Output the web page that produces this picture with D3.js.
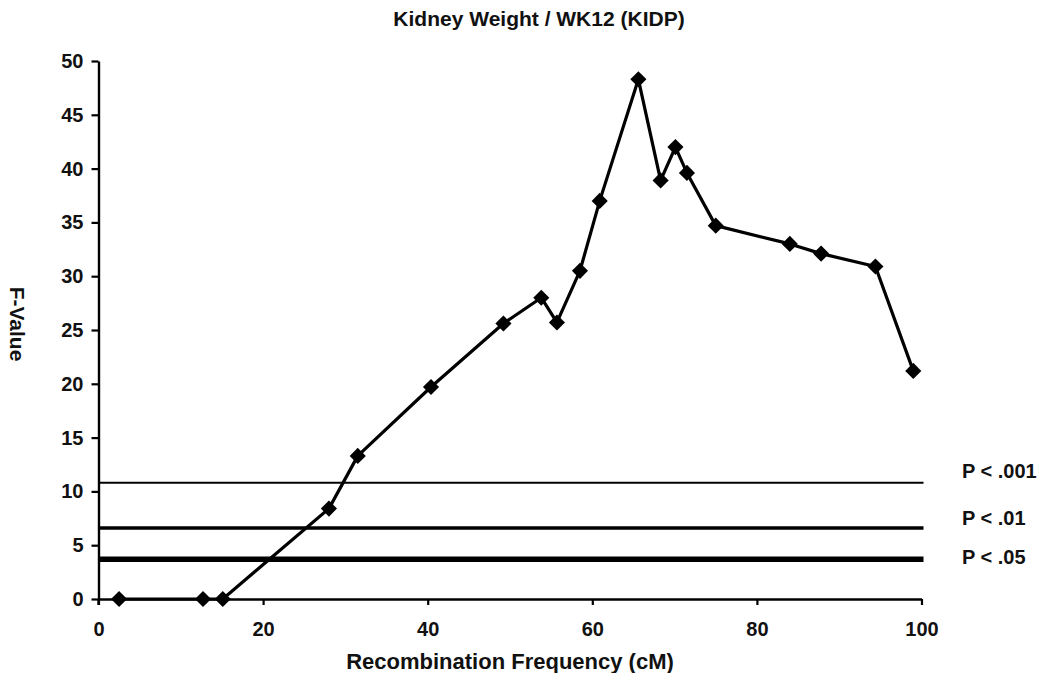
<!DOCTYPE html>
<html>
<head>
<meta charset="utf-8">
<script src="https://cdn.jsdelivr.net/npm/d3@7"></script>
<style>
  html, body { margin: 0; padding: 0; background: #ffffff; }
  svg { display: block; }
  text { font-family: "Liberation Sans", Arial, sans-serif; font-weight: bold; fill: #111; }
</style>
</head>
<body>
<script>
// Marker position (cM) and F statistic along the chromosome
const positions = [2.5, 12.7, 15.1, 28.0, 31.5, 40.4, 49.2, 53.8, 55.7, 58.5, 60.9, 65.6, 68.3, 70.1, 71.5, 75.0, 84.0, 87.8, 94.4, 99.0];
const fValues   = [0, 0, 0, 8.4, 13.3, 19.7, 25.6, 28.0, 25.7, 30.5, 37.0, 48.3, 38.9, 42.0, 39.6, 34.7, 33.0, 32.1, 30.9, 21.2];

// Significance thresholds
const thresholdLabels = ["P < .001", "P < .01", "P < .05"];
const thresholdValues = [10.8, 6.6, 3.7];
const thresholdWidths = [2, 3.5, 5.5];
const thresholdLabelShift = [-12, -10, -2];

const xTicks = [0, 20, 40, 60, 80, 100];
const yTicks = [0, 5, 10, 15, 20, 25, 30, 35, 40, 45, 50];

const W = 1047, H = 673;
const margin = { left: 98.5, right: W - 921.5, top: 61, bottom: H - 599 };

const svg = d3.select("body").append("svg").attr("width", W).attr("height", H);
svg.append("rect").attr("width", W).attr("height", H).attr("fill", "#ffffff");

const x = d3.scaleLinear().domain([0, 100]).range([margin.left, W - margin.right]);
const y = d3.scaleLinear().domain([0, 50]).range([H - margin.bottom, margin.top]);

// Title
svg.append("text")
  .attr("x", 539).attr("y", 18)
  .attr("text-anchor", "middle").attr("dominant-baseline", "central")
  .style("font-size", "21px")
  .text("Kidney Weight / WK12 (KIDP)");

// Threshold lines
svg.append("g").selectAll("line")
  .data(thresholdValues)
  .join("line")
  .attr("x1", x(0)).attr("x2", x(100) + 2)
  .attr("y1", d => y(d)).attr("y2", d => y(d))
  .attr("stroke", "#000")
  .attr("stroke-width", (d, i) => thresholdWidths[i]);

svg.append("g").selectAll("text")
  .data(thresholdValues)
  .join("text")
  .attr("x", 962)
  .attr("y", (d, i) => y(d) + thresholdLabelShift[i])
  .attr("dominant-baseline", "central")
  .style("font-size", "20px")
  .text((d, i) => thresholdLabels[i]);

// Axes
const xAxis = d3.axisBottom(x).tickValues(xTicks).tickSize(6).tickSizeOuter(0).tickPadding(17);
const yAxis = d3.axisLeft(y).tickValues(yTicks).tickSize(7).tickSizeOuter(0).tickPadding(8);

const gx = svg.append("g").attr("transform", `translate(0,${y(0)})`).call(xAxis);
const gy = svg.append("g").attr("transform", `translate(${x(0)},0)`).call(yAxis);

[gx, gy].forEach(g => {
  g.select(".domain").attr("stroke", "#000").attr("stroke-width", 2.4);
  g.selectAll(".tick line").attr("stroke", "#000").attr("stroke-width", 2.2);
  g.selectAll(".tick text").style("font-size", "20px").attr("fill", "#111")
    .style("font-family", "'Liberation Sans', Arial, sans-serif").style("font-weight", "bold");
});
// y axis runs a little below the x axis
gy.append("line").attr("x1", 0).attr("x2", 0).attr("y1", y(0)).attr("y2", y(0) + 6)
  .attr("stroke", "#000").attr("stroke-width", 2.4);

// Axis titles
svg.append("text")
  .attr("x", 510).attr("y", 661)
  .attr("text-anchor", "middle").attr("dominant-baseline", "central")
  .style("font-size", "22px")
  .text("Recombination Frequency (cM)");

svg.append("text")
  .attr("transform", "translate(17,324) rotate(90)")
  .attr("text-anchor", "middle").attr("dominant-baseline", "central")
  .style("font-size", "21px")
  .text("F-Value");

// Data line and diamond markers
const pts = positions.map((p, i) => [p, fValues[i]]);
svg.append("path")
  .datum(pts)
  .attr("fill", "none").attr("stroke", "#000").attr("stroke-width", 3.2)
  .attr("stroke-linejoin", "round")
  .attr("d", d3.line().x(d => x(d[0])).y(d => y(d[1])));

const diamond = d3.symbol().type(d3.symbolSquare).size(130);
svg.append("g").selectAll("path")
  .data(pts)
  .join("path")
  .attr("d", diamond)
  .attr("transform", d => `translate(${x(d[0])},${y(d[1])}) rotate(45)`)
  .attr("fill", "#000");
</script>
</body>
</html>
